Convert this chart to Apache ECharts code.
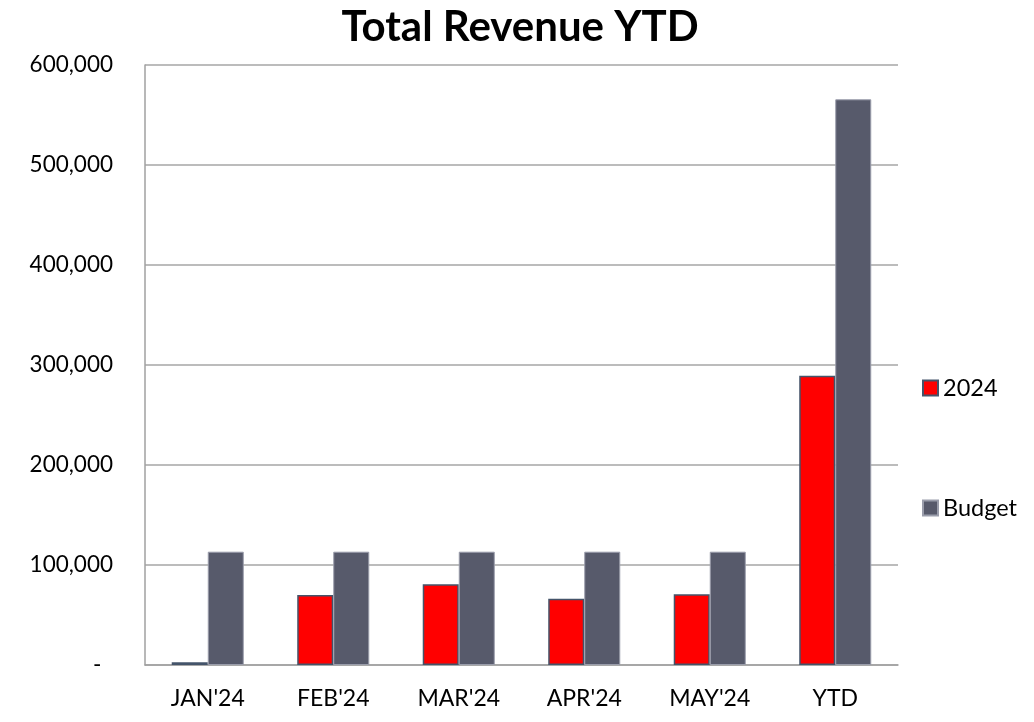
<!DOCTYPE html>
<html><head><meta charset="utf-8">
<script src="https://cdn.jsdelivr.net/npm/echarts@6/dist/echarts.min.js"></script>
<style>html,body{margin:0;padding:0;background:#fff}#c{width:1034px;height:722px}</style>
</head><body><div id="c"></div>
<script>
const categories = ["JAN'24", "FEB'24", "MAR'24", "APR'24", "MAY'24", "YTD"];
const actual2024 = [2700, 70000, 80700, 66300, 70700, 289300];
const budget = [113300, 113300, 113300, 113300, 113300, 565700];
const yTicks = [0, 100000, 200000, 300000, 400000, 500000, 600000];

const FONT = 'Lato';
const chart = echarts.init(document.getElementById('c'), null, {renderer: 'canvas'});
chart.setOption({
  animation: false,
  title: {
    text: 'Total Revenue YTD', left: 515, top: 1, textAlign: 'center',
    textStyle: {fontFamily: FONT, fontWeight: 'bold', fontSize: 42, color: '#000'}
  },
  legend: {
    orient: 'vertical', left: 917, top: 371, itemGap: 96,
    itemWidth: 15, itemHeight: 15, icon: 'rect',
    textStyle: {fontFamily: FONT, fontSize: 23.5, color: '#000'},
    data: ['2024', 'Budget']
  },
  grid: {left: 145, right: 136, top: 65, bottom: 57, containLabel: false},
  xAxis: {
    type: 'category', data: categories,
    axisLine: {show: true, lineStyle: {color: '#a0a0a0', width: 1.5}},
    axisTick: {show: false},
    axisLabel: {fontFamily: FONT, fontSize: 23, color: '#000', margin: 22}
  },
  yAxis: {
    type: 'value', min: yTicks[0], max: yTicks[yTicks.length - 1], interval: 100000,
    axisLine: {show: true, lineStyle: {color: '#a0a0a0', width: 1.5}},
    axisTick: {show: false},
    splitLine: {lineStyle: {color: '#a6a6a6', width: 1.5}},
    axisLabel: {
      fontFamily: FONT, fontSize: 22.5, color: '#000', margin: 32,
      formatter: v => v === 0 ? '-  ' : v.toLocaleString('en-US')
    }
  },
  series: [
    {name: '2024', type: 'bar', data: actual2024, barGap: '0%', barCategoryGap: '42.6%',
     itemStyle: {color: '#ff0000', borderColor: '#44546a', borderWidth: 1.5}},
    {name: 'Budget', type: 'bar', data: budget, barGap: '0%', barCategoryGap: '42.6%',
     itemStyle: {color: '#575a6b', borderColor: '#9a9dab', borderWidth: 1}}
  ]
});
</script></body></html>
